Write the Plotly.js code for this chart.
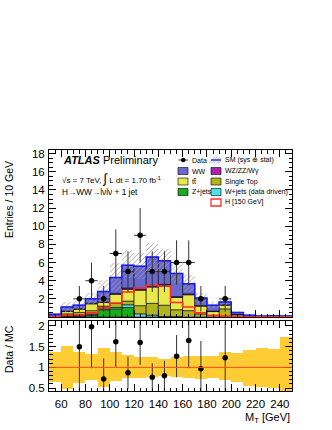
<!DOCTYPE html>
<html>
<head>
<meta charset="utf-8">
<script src="https://cdn.plot.ly/plotly-3.0.1.min.js"></script>
<style>
  html, body { margin: 0; padding: 0; background: #fff; }
  #chart { width: 332px; height: 430px; }
</style>
</head>
<body>
<div id="chart"></div>
<script>
// M_T bins, 10 GeV wide
const binCenters = [55, 65, 75, 85, 95, 105, 115, 125, 135, 145, 155, 165, 175, 185, 195, 205, 215, 225, 235, 245];

// stacked backgrounds, bottom to top
const zjets   = [0, 0.05, 0.1, 0.2, 0.8, 0.9, 1.05, 0, 0, 0, 0, 0, 0, 0, 0, 0, 0, 0, 0, 0];
const wjets   = [0, 0, 0.05, 0.1, 0.1, 0.15, 0.3, 0.35, 0.2, 0.05, 0.05, 0, 0, 0, 0, 0, 0, 0, 0, 0];
const singleTop = [0.02, 0.3, 0.35, 0.4, 0.3, 0.45, 0.4, 0.9, 1.3, 1.25, 0.75, 0.7, 0.35, 0.2, 0.9, 0.25, 0.05, 0, 0, 0];
const ttbar   = [0.05, 0.25, 0.35, 0.75, 0.4, 1.0, 1.3, 1.7, 1.8, 2.2, 1.35, 1.75, 0.85, 0.4, 0.4, 0.05, 0, 0, 0, 0];
const diboson = [0.03, 0.05, 0.05, 0.05, 0.05, 0.1, 0.15, 0.1, 0.15, 0.1, 0.1, 0.1, 0.05, 0.05, 0.05, 0, 0, 0, 0, 0];
const ww      = [0.2, 0.45, 0.4, 0.5, 1.15, 1.75, 2.5, 2.55, 3.15, 2.6, 2.55, 1.1, 0.85, 0.65, 0.3, 0.2, 0.15, 0.1, 0.15, 0.1];

// H [150 GeV] signal, not stacked
const higgs = [0.05, 0.2, 0.25, 0.45, 1.0, 1.55, 2.75, 3.2, 3.5, 3.4, 1.6, 1.1, 0.45, 0.15, 0.1, 0.05, 0.03, 0.02, 0.02, 0.02];

// SM uncertainty band, relative (as in the ratio panel)
const bandHi = [1.36, 1.51, 1.36, 1.32, 1.47, 1.36, 1.3, 1.26, 1.24, 1.21, 1.25, 1.28, 1.27, 1.28, 1.36, 1.34, 1.42, 1.46, 1.44, 1.73];
const bandLo = [0.64, 0.48, 0.63, 0.69, 0.52, 0.66, 0.75, 0.75, 0.77, 0.8, 0.78, 0.75, 0.72, 0.75, 0.69, 0.65, 0.54, 0.52, 0.5, 0.3];

// data
const dataX   = [75, 85, 95, 105, 115, 125, 135, 145, 155, 165, 175, 195];
const dataY   = [2, 4, 2, 7, 5, 9, 5, 5, 6, 6, 2, 2];
const dataErr = [1.41, 2, 1.41, 2.65, 2.24, 3, 2.24, 2.24, 2.45, 2.45, 1.41, 1.41];

// data / MC
const ratioY   = [1.5, 1.98, 0.72, 1.62, 0.87, 1.6, 0.76, 0.8, 1.27, 1.65, 0.97, 1.23];
const ratioErr = [1.09, 1.0, 0.5, 0.61, 0.39, 0.54, 0.34, 0.36, 0.51, 0.67, 0.67, 0.86];

const xTicks = [60, 80, 100, 120, 140, 160, 180, 200, 220, 240];
const yTicks = [2, 4, 6, 8, 10, 12, 14, 16, 18];
const rTicks = [0.5, 1, 1.5, 2];

const FONT = 'Liberation Sans, Arial, Helvetica, sans-serif';
const W = 332, H = 430;
const px = x => x / W;
const py = y => 1 - y / H;

const stack = [
  { name: 'Z+jets', y: zjets, color: '#1aab1a' },
  { name: 'W+jets (data driven)', y: wjets, color: '#4ae4e4' },
  { name: 'Single Top', y: singleTop, color: '#b3b31e' },
  { name: 'tt', y: ttbar, color: '#e9e94c' },
  { name: 'WZ/ZZ/Wγ', y: diboson, color: '#b21eb2' },
  { name: 'WW', y: ww, color: '#6868cf' },
];

const traces = [];
let cum = binCenters.map(() => 0);
stack.forEach(s => {
  traces.push({
    type: 'bar', x: binCenters, y: s.y, base: cum.slice(), width: 10,
    marker: { color: s.color, line: { color: '#000', width: 0.6 } },
    xaxis: 'x', yaxis: 'y', hoverinfo: 'skip', showlegend: false,
  });
  cum = cum.map((c, i) => c + s.y[i]);
});
const total = cum;

// hatched SM uncertainty
traces.push({
  type: 'bar', x: binCenters,
  base: total.map((t, i) => t * bandLo[i]),
  y: total.map((t, i) => t * (bandHi[i] - bandLo[i])),
  width: 10,
  marker: {
    color: 'rgba(0,0,0,0)', line: { width: 0 },
    pattern: { shape: '/', fgcolor: '#a0a0a0', bgcolor: 'rgba(0,0,0,0)', size: 3.5, solidity: 0.25 },
  },
  xaxis: 'x', yaxis: 'y', hoverinfo: 'skip', showlegend: false,
});

// step lines over bin edges
const edges = binCenters.map(c => c - 5).concat([binCenters[binCenters.length - 1] + 5]);
const stepY = arr => arr.concat([arr[arr.length - 1]]);

traces.push({
  type: 'scatter', mode: 'lines', x: edges, y: stepY(total),
  line: { shape: 'hv', color: '#1a1aff', width: 1.5 },
  xaxis: 'x', yaxis: 'y', hoverinfo: 'skip', showlegend: false,
});
traces.push({
  type: 'scatter', mode: 'lines', x: edges, y: stepY(higgs),
  line: { shape: 'hv', color: '#ff2a2a', width: 1.6 },
  xaxis: 'x', yaxis: 'y', hoverinfo: 'skip', showlegend: false,
});

// data points
traces.push({
  type: 'scatter', mode: 'markers', x: dataX, y: dataY,
  marker: { color: '#000', size: 5.5 },
  error_y: { type: 'data', array: dataErr, color: '#333', thickness: 1, width: 0 },
  error_x: { type: 'constant', value: 5, color: '#333', thickness: 1, width: 0 },
  xaxis: 'x', yaxis: 'y', hoverinfo: 'skip', showlegend: false,
});

// ratio band
traces.push({
  type: 'bar', x: binCenters, base: bandLo,
  y: bandHi.map((h, i) => h - bandLo[i]), width: 10,
  marker: { color: '#ffcc33', line: { width: 0 } },
  xaxis: 'x2', yaxis: 'y2', hoverinfo: 'skip', showlegend: false,
});
traces.push({
  type: 'scatter', mode: 'markers', x: dataX, y: ratioY,
  marker: { color: '#000', size: 5.5 },
  error_y: { type: 'data', array: ratioErr, color: '#333', thickness: 1, width: 0 },
  xaxis: 'x2', yaxis: 'y2', hoverinfo: 'skip', showlegend: false,
});

const axisBase = {
  showline: true, linecolor: '#000', linewidth: 1, mirror: 'allticks',
  ticks: 'inside', ticklen: 7, tickcolor: '#000', tickwidth: 1,
  showgrid: false, zeroline: false, automargin: false,
  tickfont: { size: 11.5, color: '#000', family: FONT },
};
const xDomain = [px(49), px(292)];

// legend (drawn by hand: two columns as in the original)
const shapes = [];
const annotations = [];
function legendBox(x0, yc, fill, lineColor) {
  shapes.push({
    type: 'rect', xref: 'paper', yref: 'paper',
    x0: px(x0), x1: px(x0 + 10), y0: py(yc + 3.5), y1: py(yc - 3.5),
    fillcolor: fill, line: { color: lineColor || '#000', width: lineColor ? 1.3 : 0.6 },
  });
}
function legendText(x, yc, text) {
  annotations.push({
    xref: 'paper', yref: 'paper', x: px(x), y: py(yc), text,
    showarrow: false, xanchor: 'left', yanchor: 'middle',
    font: { size: 7, family: FONT, color: '#000' },
  });
}
// Data
shapes.push({ type: 'circle', xref: 'paper', yref: 'paper',
  x0: px(181), x1: px(185.5), y0: py(162.2), y1: py(157.8), fillcolor: '#000', line: { width: 0 } });
shapes.push({ type: 'line', xref: 'paper', yref: 'paper',
  x0: px(178.5), x1: px(188), y0: py(160), y1: py(160), line: { color: '#000', width: 0.8 } });
legendText(189.5, 160, 'Data');
// SM hatched + blue line
for (let k = 0; k < 5; k++) {
  const a = 211 + k * 2.5;
  shapes.push({ type: 'line', xref: 'paper', yref: 'paper',
    x0: px(a - 2), x1: px(Math.min(a + 4, 221)), y0: py(163.5), y1: py(156.5 + Math.max(0, a + 4 - 221)),
    line: { color: '#a0a0a0', width: 0.7 } });
}
shapes.push({ type: 'line', xref: 'paper', yref: 'paper',
  x0: px(211), x1: px(221), y0: py(160), y1: py(160), line: { color: '#1a1aff', width: 1.3 } });
legendText(223, 160, 'SM (sys ⊕ stat)');

legendBox(178, 171, '#6868cf');
legendText(189.5, 171, 'WW');
legendBox(211, 171, '#b21eb2');
legendText(223, 171, 'WZ/ZZ/Wγ');
legendBox(178, 181.5, '#e9e94c');
legendText(189.5, 181.5, 't<span style="text-decoration:overline">t</span>');
legendBox(211, 181.5, '#b3b31e');
legendText(223, 181.5, 'Single Top');
legendBox(178, 192, '#1aab1a');
legendText(189.5, 192, 'Z+jets');
legendBox(211, 192, '#4ae4e4');
legendText(223, 192, 'W+jets (data driven)');
legendBox(211, 202.5, '#ffffff', '#ff2a2a');
legendText(223, 202.5, 'H [150 GeV]');

// labels
annotations.push({
  xref: 'paper', yref: 'paper', x: px(61), y: py(160),
  text: '<b><i>ATLAS</i></b> Preliminary', showarrow: false,
  xanchor: 'left', yanchor: 'middle', font: { size: 11, family: FONT, color: '#000' },
});
annotations.push({
  xref: 'paper', yref: 'paper', x: px(60), y: py(178),
  text: '√s = 7 TeV, <span style="font-size:13px">∫</span> L dt = 1.70 fb<sup>-1</sup>', showarrow: false,
  xanchor: 'left', yanchor: 'middle', font: { size: 8, family: FONT, color: '#000' },
});
annotations.push({
  xref: 'paper', yref: 'paper', x: px(60), y: py(192),
  text: 'H→WW→lνlν + 1 jet', showarrow: false,
  xanchor: 'left', yanchor: 'middle', font: { size: 8.3, family: FONT, color: '#000' },
});
annotations.push({
  xref: 'paper', yref: 'paper', x: px(9), y: py(200), textangle: -90,
  text: 'Entries / 10 GeV', showarrow: false,
  xanchor: 'center', yanchor: 'middle', font: { size: 10.5, family: FONT, color: '#000' },
});
annotations.push({
  xref: 'paper', yref: 'paper', x: px(9), y: py(349), textangle: -90,
  text: 'Data / MC', showarrow: false,
  xanchor: 'center', yanchor: 'middle', font: { size: 10.5, family: FONT, color: '#000' },
});
annotations.push({
  xref: 'paper', yref: 'paper', x: px(292), y: py(418),
  text: 'M<sub>T</sub> [GeV]', showarrow: false,
  xanchor: 'right', yanchor: 'middle', font: { size: 11, family: FONT, color: '#000' },
});

// ratio = 1 line
shapes.push({ type: 'line', xref: 'x2', yref: 'y2', x0: 50, x1: 250, y0: 1, y1: 1,
  line: { color: '#ff4a1a', width: 1 } });

const layout = {
  width: W, height: H,
  margin: { l: 0, r: 0, t: 0, b: 0 },
  paper_bgcolor: '#fff', plot_bgcolor: 'rgba(0,0,0,0)',
  font: { family: FONT, color: '#000' },
  barmode: 'overlay', bargap: 0,
  showlegend: false,
  xaxis: { ...axisBase, domain: xDomain, anchor: 'y', range: [50, 250],
    tickvals: xTicks, showticklabels: false,
    minor: { ticks: 'inside', ticklen: 3.5, dtick: 5, tickcolor: '#000' } },
  yaxis: { ...axisBase, domain: [py(317), py(150)], anchor: 'x', range: [0, 18.4],
    tickvals: yTicks, ticklabelstandoff: 1,
    minor: { ticks: 'inside', ticklen: 3.5, dtick: 0.5, tickcolor: '#000' } },
  xaxis2: { ...axisBase, domain: xDomain, anchor: 'y2', range: [50, 250],
    tickvals: xTicks, ticklabelstandoff: 2,
    minor: { ticks: 'inside', ticklen: 3.5, dtick: 5, tickcolor: '#000' } },
  yaxis2: { ...axisBase, domain: [py(391), py(321)], anchor: 'x2', range: [0.43, 2.12],
    tickvals: rTicks, ticktext: ['0.5', '1', '1.5', '2'], ticklabelstandoff: 1,
    minor: { ticks: 'inside', ticklen: 3.5, dtick: 0.1, tickcolor: '#000' } },
  shapes, annotations,
};

Plotly.newPlot('chart', traces, layout, { staticPlot: true, displayModeBar: false });
</script>
</body>
</html>
